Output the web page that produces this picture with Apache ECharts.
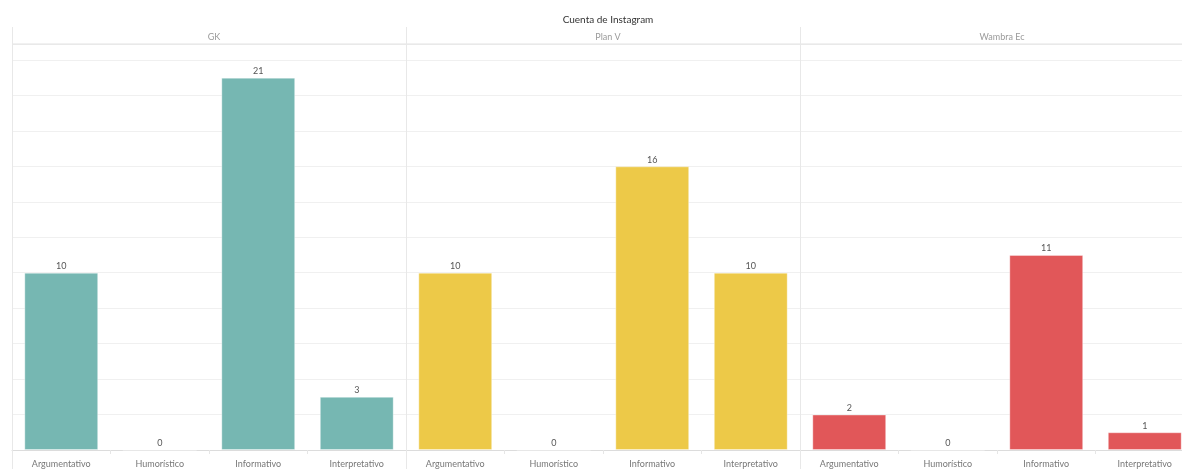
<!DOCTYPE html>
<html>
<head>
<meta charset="utf-8">
<script src="https://cdn.jsdelivr.net/npm/echarts@6/dist/echarts.min.js"></script>
<style>
html,body{margin:0;padding:0;background:#fff;overflow:hidden;}
#chart{width:1200px;height:469px;}
</style>
</head>
<body>
<div id="chart"></div>
<script>
const chartTitle = 'Cuenta de Instagram';
const categories = ['Argumentativo', 'Humorístico', 'Informativo', 'Interpretativo'];
const panels = ['GK', 'Plan V', 'Wambra Ec'];
const valuesGK = [10, 0, 21, 3];
const valuesPlanV = [10, 0, 16, 10];
const valuesWambra = [2, 0, 11, 1];
const colors = ['#76B7B2', '#EDC948', '#E15759'];

const seriesValues = [valuesGK, valuesPlanV, valuesWambra];
const FONT = 'Lato, "Open Sans", sans-serif';
const panelLeft = 12, panelW = 394, gridTop = 44, gridH = 410;

const chart = echarts.init(document.getElementById('chart'), null, {renderer: 'canvas'});

const grids = [], xAxes = [], yAxes = [], series = [], titles = [];
titles.push({
  text: chartTitle, left: 603, textAlign: 'center', top: 10,
  textStyle: {fontFamily: FONT, fontSize: 10, fontWeight: 'normal', color: '#333'}
});
panels.forEach((p, i) => {
  const left = panelLeft + i * panelW;
  grids.push({left: left, width: panelW, top: gridTop, height: gridH, containLabel: false});
  titles.push({
    text: p, left: left + panelW / 2, top: 28, textAlign: 'center',
    textStyle: {fontFamily: FONT, fontSize: 9, fontWeight: 'normal', color: '#9a9a9a'}
  });
  xAxes.push({
    type: 'category', gridIndex: i, data: categories,
    axisLine: {show: true, lineStyle: {color: '#dcdcdc', width: 1}},
    axisTick: {show: true, length: 4, lineStyle: {color: '#e6e6e6'}},
    axisLabel: {fontFamily: FONT, fontSize: 9, color: '#777', margin: 10, interval: 0},
    splitLine: {show: false}
  });
  yAxes.push({
    type: 'value', gridIndex: i, min: 0, max: 22.9, interval: 2,
    axisLine: {show: false}, axisTick: {show: false}, axisLabel: {show: false},
    splitLine: {show: true, lineStyle: {color: '#f0f0f0', width: 1}}
  });
  series.push({
    type: 'bar', xAxisIndex: i, yAxisIndex: i, data: seriesValues[i],
    barWidth: '75%',
    itemStyle: {color: colors[i], borderColor: 'rgba(255,255,255,0.35)', borderWidth: 1},
    label: {show: true, position: 'top', distance: 2, fontFamily: FONT, fontSize: 9, color: '#555'},
    emphasis: {disabled: true}, animation: false
  });
});

const graphics = [];
graphics.push({type: 'line', shape: {x1: panelLeft, y1: gridTop, x2: 1200, y2: gridTop},
  style: {stroke: '#e2e2e2', lineWidth: 1}, z: 10});
for (let i = 0; i < 3; i++) {
  const x = panelLeft + i * panelW + 0.5;
  graphics.push({type: 'line', shape: {x1: x, y1: 27, x2: x, y2: 469},
    style: {stroke: '#e8e8e8', lineWidth: 1}, z: 10});
}

chart.setOption({
  backgroundColor: '#fff',
  animation: false,
  title: titles,
  grid: grids,
  xAxis: xAxes,
  yAxis: yAxes,
  series: series,
  graphic: graphics
});
</script>
</body>
</html>
